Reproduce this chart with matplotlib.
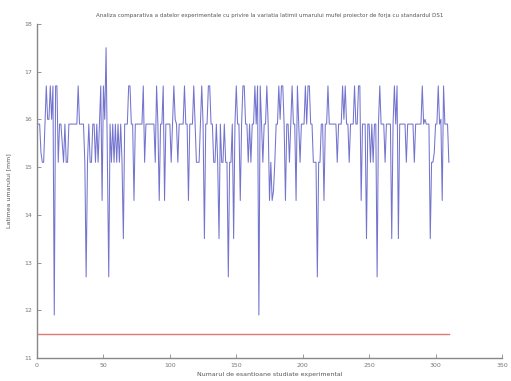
import matplotlib
matplotlib.use("Agg")
import matplotlib.pyplot as plt
import numpy as np

values = [
    15.9, 15.9, 15.3, 15.1, 15.1, 15.9, 16.7, 16.0, 16.0, 16.7,
    16.0, 16.7, 11.9, 16.7, 16.7, 15.1, 15.9, 15.9, 15.5, 15.1,
    15.9, 15.1, 15.1, 15.9, 15.9, 15.9, 15.9, 15.9, 15.9, 15.9,
    16.7, 15.9, 15.9, 15.9, 15.9, 15.1, 12.7, 15.1, 15.9, 15.1,
    15.1, 15.9, 15.9, 15.1, 15.9, 15.1, 15.9, 16.7, 14.3, 16.7,
    16.0, 17.5, 15.1, 12.7, 15.9, 15.1, 15.9, 15.1, 15.9, 15.1,
    15.9, 15.1, 15.9, 15.1, 13.5, 15.9, 15.9, 15.9, 16.7, 16.7,
    15.9, 15.9, 14.3, 15.9, 15.9, 15.9, 15.9, 15.9, 15.9, 16.7,
    15.1, 15.9, 15.9, 15.9, 15.9, 15.9, 15.9, 15.9, 15.1, 16.7,
    15.9, 14.3, 15.9, 15.9, 16.7, 14.3, 15.9, 15.9, 15.9, 15.9,
    15.1, 15.9, 16.7, 16.0, 15.9, 15.1, 15.9, 15.9, 15.9, 15.9,
    16.7, 15.9, 15.9, 14.3, 15.9, 15.9, 15.9, 16.7, 15.9, 15.1,
    15.1, 15.1, 15.9, 16.7, 15.9, 13.5, 15.9, 15.9, 16.7, 16.7,
    15.9, 15.9, 15.1, 15.1, 15.9, 15.1, 13.5, 15.9, 15.1, 15.1,
    15.9, 15.1, 15.1, 12.7, 15.1, 15.1, 15.9, 13.5, 15.9, 16.7,
    15.9, 15.9, 14.3, 15.9, 16.7, 16.7, 15.9, 15.9, 15.1, 15.9,
    15.1, 15.9, 15.9, 16.7, 15.9, 16.7, 11.9, 16.7, 15.9, 15.1,
    15.9, 15.9, 16.7, 15.9, 14.3, 15.1, 14.3, 14.5, 15.1, 15.9,
    15.9, 16.7, 16.0, 16.7, 16.7, 15.9, 14.3, 15.9, 15.9, 15.1,
    15.9, 16.7, 15.9, 15.9, 14.3, 16.7, 15.9, 15.1, 15.9, 15.9,
    15.9, 16.7, 15.9, 16.7, 16.7, 15.9, 15.9, 15.1, 15.1, 15.1,
    12.7, 15.1, 15.1, 15.9, 15.9, 14.3, 15.9, 15.9, 16.7, 15.9,
    15.9, 15.9, 15.9, 15.9, 15.9, 15.1, 15.9, 15.9, 15.9, 16.7,
    16.0, 16.7, 15.9, 15.9, 15.1, 15.9, 15.9, 15.9, 16.7, 15.9,
    15.9, 16.7, 16.7, 14.3, 15.9, 15.9, 15.9, 13.5, 15.9, 15.9,
    15.1, 15.9, 15.1, 15.9, 15.9, 12.7, 15.9, 16.7, 15.9, 15.9,
    15.9, 15.1, 15.9, 15.9, 15.9, 15.9, 13.5, 15.9, 16.7, 15.9,
    16.7, 13.5, 15.9, 15.9, 15.9, 15.9, 15.9, 15.1, 15.9, 15.9,
    15.9, 15.9, 15.9, 15.1, 15.9, 15.9, 15.9, 15.9, 15.9, 16.7,
    15.9, 16.0, 15.9, 15.9, 15.9, 13.5, 15.1, 15.1, 15.3, 15.9,
    15.9, 16.7, 15.9, 16.0, 14.3, 16.7, 15.9, 15.9, 15.9, 15.1,
]
samples = list(range(1, len(values) + 1))
standard_value = 11.5
standard_x = [0, 310]

title = ("Analiza comparativa a datelor experimentale cu privire la variatia "
         "latimii umarului mufei proiector de forja cu standardul DS1")
xlabel = "Numarul de esantioane studiate experimental"
ylabel = "Latimea umarului [mm]"
xticks = [0, 50, 100, 150, 200, 250, 300, 350]
yticks = [11, 12, 13, 14, 15, 16, 17, 18]

fig = plt.figure(figsize=(5.11, 3.81), dpi=100)
ax = fig.add_axes([0.0724, 0.0604, 0.910, 0.877])
ax.plot(samples, values, color="#7474cf", lw=0.75)
ax.plot(standard_x, [standard_value, standard_value], color="#e07a72", lw=1.0)
ax.set_xlim(0, 350)
ax.set_ylim(11, 18)
ax.set_xticks(xticks)
ax.set_yticks(yticks)
for s in ["top", "right"]:
    ax.spines[s].set_visible(False)
for s in ["left", "bottom"]:
    ax.spines[s].set_color("#888888")
    ax.spines[s].set_linewidth(1.0)
ax.tick_params(direction="in", length=3, width=0.6, colors="#888888",
               labelsize=4.5, labelcolor="#777777", pad=3.5)
ax.set_title(title, fontsize=4, color="#555555", pad=5)
ax.set_xlabel(xlabel, fontsize=4.5, color="#555555", labelpad=3)
ax.set_ylabel(ylabel, fontsize=4.5, color="#555555", labelpad=9)
fig.savefig("out.png", dpi=100)
